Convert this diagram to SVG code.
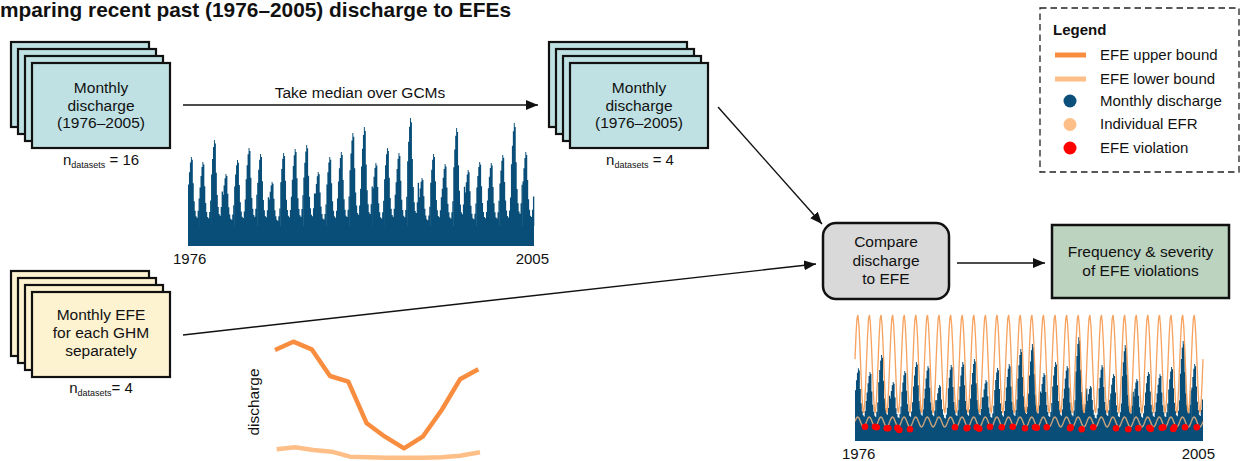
<svg xmlns="http://www.w3.org/2000/svg" width="1242" height="461" viewBox="0 0 1242 461">
<defs>
<style>
text{font-family:"Liberation Sans",Arial,sans-serif;fill:#111}
.t{font-size:15.5px;text-anchor:middle}
.lbl{font-size:15px}
.stk{stroke:#111;stroke-width:2.2}
.blue{fill:#bfe1e4}
.yel{fill:#fef3d1}
.con{stroke:#111;stroke-width:1.4;fill:none}
.q{fill:#084e78}
.ub{fill:none;stroke:#f7a25e;stroke-width:1.3}
.lb{fill:none;stroke:#c9a27c;stroke-width:1.4}
.viol{fill:#ff0000}
.leg{font-size:15px}
</style>
<marker id="ah" markerUnits="userSpaceOnUse" markerWidth="13" markerHeight="10" refX="12" refY="5" orient="auto"><path d="M0,0 L12,5 L0,10 Z" fill="#111"/></marker>
<path id="yr" d="M0,0 V-0.6 H1 V-0.78 H2 V-0.92 H3 V-1 H4 V-0.96 H5 V-0.62 H6 V-0.36 H7 V-0.22 H8 V-0.14 H9 V-0.12 H10 V-0.22 H11 V-0.4 H12.4 V0 Z"/>
<path id="uw" d="M0,-53.9 L0.97,-77.4 L1.93,-94.1 L2.9,-98 L3.87,-88.2 L4.84,-68.6 L5.8,-44.1 L6.77,-20.6 L7.74,-3.9 L8.7,0 L9.67,-9.8 L10.64,-29.4 L11.6,-53.9"/>
<path id="lw" d="M0,-5.5 L0.97,-7.9 L1.93,-9.6 L2.9,-10 L3.87,-9 L4.84,-7 L5.8,-4.5 L6.77,-2.1 L7.74,-0.4 L8.7,0 L9.67,-1 L10.64,-3 L11.6,-5.5"/>
</defs>
<rect width="1242" height="461" fill="#fff"/>

<text x="0" y="17" font-size="20.5" font-weight="bold" textLength="511" lengthAdjust="spacingAndGlyphs">mparing recent past (1976–2005) discharge to EFEs</text>

<g id="node-discharge-gcm">
<rect class="stk blue" x="11" y="42" width="138" height="85"/>
<rect class="stk blue" x="18" y="49" width="138" height="85"/>
<rect class="stk blue" x="25" y="56" width="138" height="85"/>
<rect class="stk blue" x="32" y="63" width="138" height="85"/>
<text class="t" x="101" y="93">Monthly</text>
<text class="t" x="101" y="110.5">discharge</text>
<text class="t" x="101" y="128">(1976–2005)</text>
<text class="lbl" x="101" y="165" text-anchor="middle">n<tspan font-size="9" dy="3">datasets</tspan><tspan dy="-3"> = 16</tspan></text>
</g>

<g id="node-discharge-median">
<rect class="stk blue" x="549" y="42" width="138" height="85"/>
<rect class="stk blue" x="556" y="49" width="138" height="85"/>
<rect class="stk blue" x="563" y="56" width="138" height="85"/>
<rect class="stk blue" x="570" y="63" width="138" height="85"/>
<text class="t" x="639" y="93">Monthly</text>
<text class="t" x="639" y="110.5">discharge</text>
<text class="t" x="639" y="128">(1976–2005)</text>
<text class="lbl" x="640" y="165" text-anchor="middle">n<tspan font-size="9" dy="3">datasets</tspan><tspan dy="-3"> = 4</tspan></text>
</g>

<g id="node-efe">
<rect class="stk yel" x="11" y="271" width="138" height="85"/>
<rect class="stk yel" x="18" y="278" width="138" height="85"/>
<rect class="stk yel" x="25" y="285" width="138" height="85"/>
<rect class="stk yel" x="32" y="292" width="138" height="85"/>
<text class="t" x="101" y="320">Monthly EFE</text>
<text class="t" x="101" y="338">for each GHM</text>
<text class="t" x="101" y="356">separately</text>
<text class="lbl" x="101" y="393" text-anchor="middle">n<tspan font-size="9" dy="3">datasets</tspan><tspan dy="-3">= 4</tspan></text>
</g>

<g id="node-compare">
<rect x="823" y="223" width="126" height="76" rx="13" fill="#d9d9d9" stroke="#111" stroke-width="2.5"/>
<text class="t" x="886" y="247">Compare</text>
<text class="t" x="886" y="265.5">discharge</text>
<text class="t" x="886" y="284">to EFE</text>
</g>

<g id="node-result">
<rect x="1052" y="225" width="177" height="73" fill="#bcd3bf" stroke="#111" stroke-width="2.5"/>
<text class="t" x="1140.5" y="257">Frequency &amp; severity</text>
<text class="t" x="1140.5" y="276">of EFE violations</text>
</g>

<g id="connectors">
<line class="con" x1="183" y1="105" x2="538" y2="105" marker-end="url(#ah)"/>
<line class="con" x1="718" y1="107" x2="822" y2="224" marker-end="url(#ah)"/>
<line class="con" x1="183" y1="335" x2="816" y2="264" marker-end="url(#ah)"/>
<line class="con" x1="957" y1="263" x2="1045" y2="263" marker-end="url(#ah)"/>
<text class="t" x="360" y="98">Take median over GCMs</text>
</g>

<g id="chart-discharge">
<rect class="q" x="188" y="226" width="346" height="20"/>
<use href="#yr" class="q" transform="translate(188,226) scale(0.961,69)"/>
<use href="#yr" class="q" transform="translate(199.53,226) scale(0.961,64)"/>
<use href="#yr" class="q" transform="translate(211.07,226) scale(0.961,86)"/>
<use href="#yr" class="q" transform="translate(222.6,226) scale(0.961,52)"/>
<use href="#yr" class="q" transform="translate(234.13,226) scale(0.961,66)"/>
<use href="#yr" class="q" transform="translate(245.67,226) scale(0.961,78)"/>
<use href="#yr" class="q" transform="translate(257.2,226) scale(0.961,72)"/>
<use href="#yr" class="q" transform="translate(268.73,226) scale(0.961,44)"/>
<use href="#yr" class="q" transform="translate(280.27,226) scale(0.961,73)"/>
<use href="#yr" class="q" transform="translate(291.8,226) scale(0.961,77)"/>
<use href="#yr" class="q" transform="translate(303.33,226) scale(0.961,81)"/>
<use href="#yr" class="q" transform="translate(314.87,226) scale(0.961,54)"/>
<use href="#yr" class="q" transform="translate(326.4,226) scale(0.961,69)"/>
<use href="#yr" class="q" transform="translate(337.93,226) scale(0.961,74)"/>
<use href="#yr" class="q" transform="translate(349.47,226) scale(0.961,93)"/>
<use href="#yr" class="q" transform="translate(361,226) scale(0.961,99)"/>
<use href="#yr" class="q" transform="translate(372.53,226) scale(0.961,63)"/>
<use href="#yr" class="q" transform="translate(384.07,226) scale(0.961,78)"/>
<use href="#yr" class="q" transform="translate(395.6,226) scale(0.961,73)"/>
<use href="#yr" class="q" transform="translate(407.13,226) scale(0.961,108)"/>
<use href="#yr" class="q" transform="translate(418.67,226) scale(0.961,48)"/>
<use href="#yr" class="q" transform="translate(430.2,226) scale(0.961,72)"/>
<use href="#yr" class="q" transform="translate(441.73,226) scale(0.961,62)"/>
<use href="#yr" class="q" transform="translate(453.27,226) scale(0.961,98)"/>
<use href="#yr" class="q" transform="translate(464.8,226) scale(0.961,56)"/>
<use href="#yr" class="q" transform="translate(476.33,226) scale(0.961,64)"/>
<use href="#yr" class="q" transform="translate(487.87,226) scale(0.961,63)"/>
<use href="#yr" class="q" transform="translate(499.4,226) scale(0.961,71)"/>
<use href="#yr" class="q" transform="translate(510.93,226) scale(0.961,103)"/>
<use href="#yr" class="q" transform="translate(522.47,226) scale(0.953,74)"/>
<text class="lbl" x="173" y="264">1976</text>
<text class="lbl" x="549" y="264" text-anchor="end">2005</text>
</g>

<g id="chart-efe">
<polyline points="275,350 293.3,341.7 311.7,349.3 330,376 348.3,381.7 366.7,423.3 385,436.7 404,448.3 422.7,436.7 441.7,410 460,379.3 478.3,369.3" fill="none" stroke="#f98d3f" stroke-width="4.5" stroke-linejoin="round"/>
<polyline points="276.7,449.3 295,447.3 313.3,450 331.7,451.7 350,456.7 368.3,457.3 386.7,457.7 405,457.7 423.3,457.7 441.7,457.3 460,455.7 480,452.3" fill="none" stroke="#fdbf87" stroke-width="4.5" stroke-linejoin="round"/>
<text class="t" transform="translate(259,402) rotate(-90)">discharge</text>
</g>

<g id="chart-violations">
<rect class="q" x="855" y="423" width="348" height="18"/>
<use href="#yr" class="q" transform="translate(855,423) scale(0.967,54.7)"/>
<use href="#yr" class="q" transform="translate(866.6,423) scale(0.967,51)"/>
<use href="#yr" class="q" transform="translate(878.2,423) scale(0.967,68)"/>
<use href="#yr" class="q" transform="translate(889.8,423) scale(0.967,41)"/>
<use href="#yr" class="q" transform="translate(901.4,423) scale(0.967,52)"/>
<use href="#yr" class="q" transform="translate(913,423) scale(0.967,61)"/>
<use href="#yr" class="q" transform="translate(924.6,423) scale(0.967,57)"/>
<use href="#yr" class="q" transform="translate(936.2,423) scale(0.967,38)"/>
<use href="#yr" class="q" transform="translate(947.8,423) scale(0.967,58)"/>
<use href="#yr" class="q" transform="translate(959.4,423) scale(0.967,61)"/>
<use href="#yr" class="q" transform="translate(971,423) scale(0.967,64)"/>
<use href="#yr" class="q" transform="translate(982.6,423) scale(0.967,43)"/>
<use href="#yr" class="q" transform="translate(994.2,423) scale(0.967,55)"/>
<use href="#yr" class="q" transform="translate(1005.8,423) scale(0.967,59)"/>
<use href="#yr" class="q" transform="translate(1017.4,423) scale(0.967,74)"/>
<use href="#yr" class="q" transform="translate(1029,423) scale(0.967,79)"/>
<use href="#yr" class="q" transform="translate(1040.6,423) scale(0.967,50)"/>
<use href="#yr" class="q" transform="translate(1052.2,423) scale(0.967,61)"/>
<use href="#yr" class="q" transform="translate(1063.8,423) scale(0.967,57)"/>
<use href="#yr" class="q" transform="translate(1075.4,423) scale(0.967,86)"/>
<use href="#yr" class="q" transform="translate(1087,423) scale(0.967,37)"/>
<use href="#yr" class="q" transform="translate(1098.6,423) scale(0.967,58)"/>
<use href="#yr" class="q" transform="translate(1110.2,423) scale(0.967,49)"/>
<use href="#yr" class="q" transform="translate(1121.8,423) scale(0.967,78)"/>
<use href="#yr" class="q" transform="translate(1133.4,423) scale(0.967,44)"/>
<use href="#yr" class="q" transform="translate(1145,423) scale(0.967,51)"/>
<use href="#yr" class="q" transform="translate(1156.6,423) scale(0.967,49)"/>
<use href="#yr" class="q" transform="translate(1168.2,423) scale(0.967,56)"/>
<use href="#yr" class="q" transform="translate(1179.8,423) scale(0.967,82)"/>
<use href="#yr" class="q" transform="translate(1191.4,423) scale(0.935,59)"/>
<g class="ub">
<use href="#uw" x="855" y="413"/><use href="#uw" x="866.6" y="413"/><use href="#uw" x="878.2" y="413"/><use href="#uw" x="889.8" y="413"/><use href="#uw" x="901.4" y="413"/><use href="#uw" x="913" y="413"/><use href="#uw" x="924.6" y="413"/><use href="#uw" x="936.2" y="413"/><use href="#uw" x="947.8" y="413"/><use href="#uw" x="959.4" y="413"/><use href="#uw" x="971" y="413"/><use href="#uw" x="982.6" y="413"/><use href="#uw" x="994.2" y="413"/><use href="#uw" x="1005.8" y="413"/><use href="#uw" x="1017.4" y="413"/><use href="#uw" x="1029" y="413"/><use href="#uw" x="1040.6" y="413"/><use href="#uw" x="1052.2" y="413"/><use href="#uw" x="1063.8" y="413"/><use href="#uw" x="1075.4" y="413"/><use href="#uw" x="1087" y="413"/><use href="#uw" x="1098.6" y="413"/><use href="#uw" x="1110.2" y="413"/><use href="#uw" x="1121.8" y="413"/><use href="#uw" x="1133.4" y="413"/><use href="#uw" x="1145" y="413"/><use href="#uw" x="1156.6" y="413"/><use href="#uw" x="1168.2" y="413"/><use href="#uw" x="1179.8" y="413"/><use href="#uw" x="1191.4" y="413"/>
</g>
<g class="lb">
<use href="#lw" x="855" y="427"/><use href="#lw" x="866.6" y="427"/><use href="#lw" x="878.2" y="427"/><use href="#lw" x="889.8" y="427"/><use href="#lw" x="901.4" y="427"/><use href="#lw" x="913" y="427"/><use href="#lw" x="924.6" y="427"/><use href="#lw" x="936.2" y="427"/><use href="#lw" x="947.8" y="427"/><use href="#lw" x="959.4" y="427"/><use href="#lw" x="971" y="427"/><use href="#lw" x="982.6" y="427"/><use href="#lw" x="994.2" y="427"/><use href="#lw" x="1005.8" y="427"/><use href="#lw" x="1017.4" y="427"/><use href="#lw" x="1029" y="427"/><use href="#lw" x="1040.6" y="427"/><use href="#lw" x="1052.2" y="427"/><use href="#lw" x="1063.8" y="427"/><use href="#lw" x="1075.4" y="427"/><use href="#lw" x="1087" y="427"/><use href="#lw" x="1098.6" y="427"/><use href="#lw" x="1110.2" y="427"/><use href="#lw" x="1121.8" y="427"/><use href="#lw" x="1133.4" y="427"/><use href="#lw" x="1145" y="427"/><use href="#lw" x="1156.6" y="427"/><use href="#lw" x="1168.2" y="427"/><use href="#lw" x="1179.8" y="427"/><use href="#lw" x="1191.4" y="427"/>
</g>
<g class="viol">
<circle cx="865" cy="426.7" r="3.3"/><circle cx="875" cy="426.7" r="3.3"/><circle cx="876.7" cy="427.3" r="3.3"/><circle cx="886.7" cy="428.3" r="3.3"/><circle cx="888.3" cy="428.3" r="3.3"/><circle cx="897.3" cy="427.7" r="3.3"/><circle cx="899.3" cy="430" r="3.3"/><circle cx="910" cy="429.3" r="3.3"/><circle cx="955" cy="427.3" r="3.3"/><circle cx="966.7" cy="428.3" r="3.3"/><circle cx="967.3" cy="427.7" r="3.3"/><circle cx="976.7" cy="427.3" r="3.3"/><circle cx="979.3" cy="428.7" r="3.3"/><circle cx="990" cy="426.7" r="3.3"/><circle cx="1001.7" cy="427.3" r="3.3"/><circle cx="1012.7" cy="426.7" r="3.3"/><circle cx="1025" cy="428.3" r="3.3"/><circle cx="1035" cy="427.3" r="3.3"/><circle cx="1036.7" cy="427.7" r="3.3"/><circle cx="1046.7" cy="427.3" r="3.3"/><circle cx="1070" cy="428.3" r="3.3"/><circle cx="1070.7" cy="427.3" r="3.3"/><circle cx="1081.7" cy="429.3" r="3.3"/><circle cx="1093.3" cy="427.3" r="3.3"/><circle cx="1116" cy="428.3" r="3.3"/><circle cx="1128.3" cy="429.3" r="3.3"/><circle cx="1138.3" cy="428.3" r="3.3"/><circle cx="1149.3" cy="427.7" r="3.3"/><circle cx="1150.7" cy="429" r="3.3"/><circle cx="1161.7" cy="427.7" r="3.3"/><circle cx="1163.3" cy="427.3" r="3.3"/><circle cx="1173.3" cy="429" r="3.3"/><circle cx="1174.3" cy="427.3" r="3.3"/><circle cx="1185" cy="427.3" r="3.3"/><circle cx="1196.7" cy="427.3" r="3.3"/>
</g>
<text class="lbl" x="842" y="459">1976</text>
<text class="lbl" x="1215" y="459" text-anchor="end">2005</text>
</g>

<g id="legend">
<rect x="1040" y="8" width="199" height="164" fill="none" stroke="#222" stroke-width="1.3" stroke-dasharray="6.5,4"/>
<text x="1053" y="35" font-size="15" font-weight="bold">Legend</text>
<line x1="1055" y1="55" x2="1086" y2="55" stroke="#f98d3f" stroke-width="5"/>
<text class="leg" x="1100" y="60">EFE upper bound</text>
<line x1="1055" y1="79" x2="1086" y2="79" stroke="#fdbf87" stroke-width="5"/>
<text class="leg" x="1100" y="83.5">EFE lower bound</text>
<circle cx="1070" cy="101" r="6.5" fill="#0b4f7a"/>
<text class="leg" x="1100" y="106">Monthly discharge</text>
<circle cx="1070" cy="124.5" r="6.5" fill="#fdbf87"/>
<text class="leg" x="1100" y="129">Individual EFR</text>
<circle cx="1070" cy="148" r="6.5" fill="#ff0000"/>
<text class="leg" x="1100" y="152.5">EFE violation</text>
</g>
</svg>
